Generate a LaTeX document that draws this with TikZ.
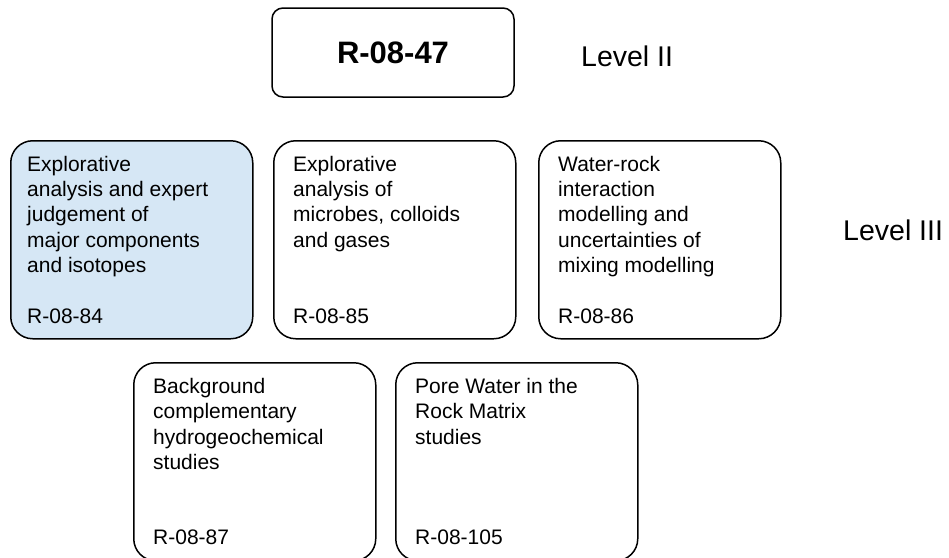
\documentclass[tikz,border=0pt]{standalone}
\usepackage{fontspec}
\setmainfont{Liberation Sans}
\definecolor{paleblue}{RGB}{214,231,245}
\tikzset{
  panel/.style={draw, line width=1.5pt, rounded corners=22pt, minimum width=242pt,
    minimum height=198pt, anchor=north west, inner sep=0pt},
  topic/.style={anchor=north west, align=left, inner sep=0pt,
    font=\fontsize{21}{25.4}\selectfont},
  code/.style={anchor=base west, inner sep=0pt, font=\fontsize{21}{25.4}\selectfont},
  level/.style={anchor=base west, inner sep=0pt, font=\fontsize{28.5}{34}\selectfont},
}
\begin{document}
\begin{tikzpicture}[x=1pt, y=-1pt]
\useasboundingbox (0,0) rectangle (949,557);
\clip (0,0) rectangle (949,557);

% level II
\node[draw, line width=1.5pt, rounded corners=11pt, minimum width=242pt, minimum height=89pt,
  font=\fontsize{31}{36}\selectfont\bfseries] (r47) at (393,52.5) {R-08-47};
\node[level] (lvl2) at (581,66.7) {Level II};

% level III
\node[level] (lvl3) at (843,240) {Level III};

\node[panel, fill=paleblue] (b84) at (10,140) {};
\node[panel] (b85) at (273,140) {};
\node[panel] (b86) at (538,140) {};
\node[panel] (b87) at (133,362) {};
\node[panel] (b105) at (395,362) {};

\node[topic] (t84) at ([xshift=17pt, yshift=-15.7pt]b84.north west)
  {Explorative\\analysis and expert\\judgement of\\major components\\and isotopes};
\node[topic] (t85) at ([xshift=20pt, yshift=-15.7pt]b85.north west)
  {Explorative\\analysis of\\microbes, colloids\\and gases};
\node[topic] (t86) at ([xshift=20pt, yshift=-15.7pt]b86.north west)
  {Water-rock\\interaction\\modelling and\\uncertainties of\\mixing modelling};
\node[topic] (t87) at ([xshift=20pt, yshift=-16pt]b87.north west)
  {Background\\complementary\\hydrogeochemical\\studies};
\node[topic] (t105) at ([xshift=20pt, yshift=-16pt]b105.north west)
  {Pore Water in the\\Rock Matrix\\studies};

\node[code] (c84) at ([xshift=17pt, yshift=16.3pt]b84.south west) {R-08-84};
\node[code] (c85) at ([xshift=20pt, yshift=16.3pt]b85.south west) {R-08-85};
\node[code] (c86) at ([xshift=20pt, yshift=16.3pt]b86.south west) {R-08-86};
\node[code] (c87) at ([xshift=20pt, yshift=17pt]b87.south west) {R-08-87};
\node[code] (c105) at ([xshift=20pt, yshift=17pt]b105.south west) {R-08-105};
\end{tikzpicture}
\end{document}
